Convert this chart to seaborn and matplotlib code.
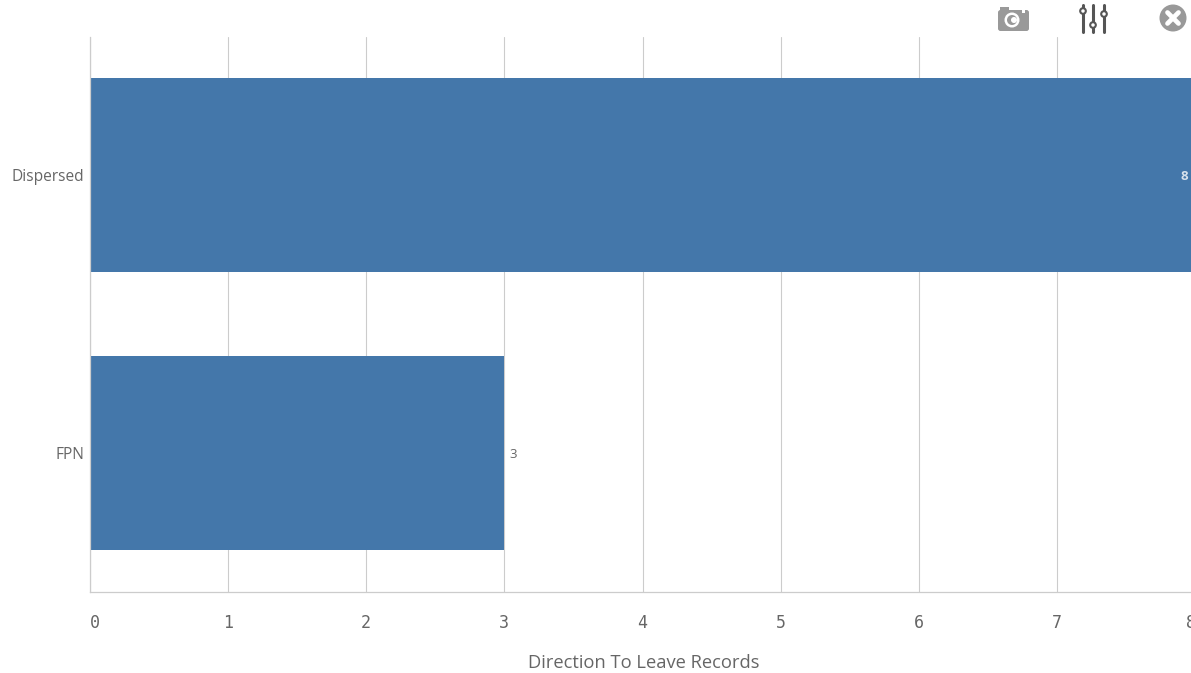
import matplotlib
matplotlib.use("Agg")
import matplotlib.pyplot as plt
from matplotlib.patches import Circle, FancyBboxPatch, Rectangle
from matplotlib.transforms import ScaledTranslation
import pandas as pd
import seaborn as sns

categories = ["Dispersed", "FPN"]
counts = [8, 3]
x_ticks = [0, 1, 2, 3, 4, 5, 6, 7, 8]

W, H = 1191, 673
BLUE = "#4477aa"
GRID = "#cccccc"
TEXT = "#666666"

sns.set_theme(style="whitegrid")
plt.rcParams["font.family"] = ["Open Sans", "DejaVu Sans"]

data = pd.DataFrame({"category": categories, "count": counts})

fig = plt.figure(figsize=(W / 100, H / 100), dpi=100, facecolor="white")
# the 8 tick sits just past the right edge of the picture
ax = fig.add_axes([90 / W, 1 - 591.5 / H, (1195 - 90) / W, 555 / H])

sns.barplot(data=data, x="count", y="category", color=BLUE, saturation=1,
            width=0.7, edgecolor="none", linewidth=0, ax=ax)
ax.set_xticks(x_ticks)
ax.set_xlim(0, 8)
ax.set_ylim(1.5, -0.5)

ax.grid(True, axis="x", color=GRID, linewidth=0.8)
ax.grid(False, axis="y")
ax.set_axisbelow(True)
ax.tick_params(axis="x", length=8.5, width=0.8, color=GRID, pad=8, labelsize=12,
               labelcolor=TEXT)
ax.tick_params(axis="y", length=0, pad=4, labelsize=11.2, labelcolor=TEXT)
for label in ax.get_xticklabels():
    label.set_fontfamily("DejaVu Sans Mono")

# first and last tick labels are pushed inwards in the reference
tick_labels = ax.get_xticklabels()
tick_labels[0].set_ha("left")
tick_labels[-1].set_transform(tick_labels[-1].get_transform()
                              + ScaledTranslation(-4 / 100, 0, fig.dpi_scale_trans))

for side in ["top", "right"]:
    ax.spines[side].set_visible(False)
for side in ["left", "bottom"]:
    ax.spines[side].set_color(GRID)
    ax.spines[side].set_linewidth(0.9)

ax.set_ylabel("")
ax.set_xlabel("Direction To Leave Records", fontsize=13.2, color=TEXT, labelpad=0)
ax.xaxis.set_label_coords((643.5 - 90) / (1195 - 90), (591 - 662) / 555,
                          transform=ax.transAxes)
ax.xaxis.label.set_verticalalignment("center")

# value labels: inside the bar when it reaches the edge, otherwise just after it
for i, value in enumerate(counts):
    if value == max(counts):
        ax.annotate(str(value), (value, i), xytext=(-7, -1.5), textcoords="offset pixels",
                    ha="right", va="center", fontsize=9.5, color="#d8e2ec",
                    fontweight="bold", annotation_clip=False)
    else:
        ax.annotate(str(value), (value, i), xytext=(5, -1.5), textcoords="offset pixels",
                    ha="left", va="center", fontsize=9.5, color=TEXT)

# toolbar icons, in pixel coordinates of the picture
icons = fig.add_axes([0, 0, 1, 1], facecolor="none")
icons.set_xlim(0, W)
icons.set_ylim(H, 0)
icons.axis("off")

ICON = "#999999"
DARK = "#555555"
icons.add_patch(FancyBboxPatch((998, 10), 31, 21, boxstyle="round,pad=0,rounding_size=2.5",
                               fc=ICON, ec="none"))
icons.add_patch(Rectangle((1000, 6.5), 9, 5, fc=ICON, ec="none"))
icons.add_patch(Circle((1012, 20), 7.5, fc="white", ec="none"))
icons.add_patch(Circle((1012, 20), 5, fc=ICON, ec="none"))
icons.add_patch(Circle((1014, 20), 3, fc="white", ec="none"))
icons.add_patch(Rectangle((1022, 10), 3, 2.5, fc="white", ec="none"))

for x, knob in [(1083, 11), (1093, 25), (1104, 14)]:
    icons.plot([x, x], [5, 32], color=DARK, lw=2.2, solid_capstyle="round")
    icons.add_patch(Circle((x, knob), 2.8, fc="white", ec=DARK, lw=1.5, zorder=3))

icons.add_patch(Circle((1173, 18), 13.5, fc=ICON, ec="none"))
icons.plot([1167.5, 1178.5], [12.5, 23.5], color="white", lw=3.4, solid_capstyle="round")
icons.plot([1167.5, 1178.5], [23.5, 12.5], color="white", lw=3.4, solid_capstyle="round")

fig.savefig("out.png", dpi=100)
